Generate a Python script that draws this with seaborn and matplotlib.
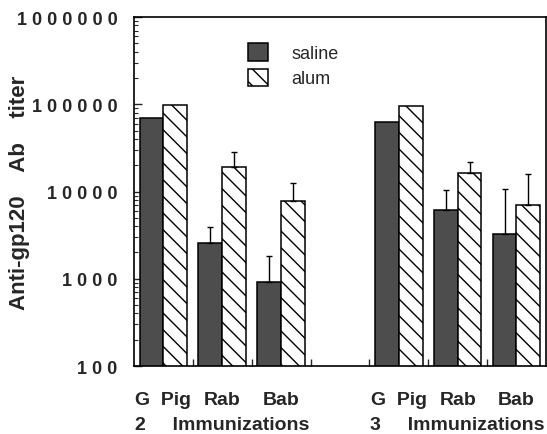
import matplotlib
matplotlib.use("Agg")
import matplotlib.pyplot as plt
import matplotlib.ticker as mticker
from matplotlib.patches import Patch
import numpy as np
import pandas as pd
import seaborn as sns

# Anti-gp120 antibody titers by species, adjuvant and number of immunizations
species = ["G  Pig", "Rab", "Bab"]
immunizations = ["2", "3"]
treatments = ["saline", "alum"]

saline_2 = [70000, 2600, 920]
alum_2 = [98000, 19000, 7700]
saline_3 = [62000, 6100, 3300]
alum_3 = [96000, 16500, 7000]

# upper error (SD) for each bar; 0 means no error bar shown
saline_2_err = [0, 1300, 880]
alum_2_err = [0, 9000, 4800]
saline_3_err = [0, 4400, 7300]
alum_3_err = [0, 5500, 9000]

ytick_values = [100, 1000, 10000, 100000, 1000000]

SALINE = "#4d4d4d"

# ---- build a long table; an empty slot separates the two immunization groups
rows = []
series = {
    ("2", "saline"): (saline_2, saline_2_err),
    ("2", "alum"): (alum_2, alum_2_err),
    ("3", "saline"): (saline_3, saline_3_err),
    ("3", "alum"): (alum_3, alum_3_err),
}
for (imm, trt), (vals, errs) in series.items():
    for sp, v, e in zip(species, vals, errs):
        rows.append({"slot": f"{imm}-{sp}", "treatment": trt, "titer": v, "err": e})
df = pd.DataFrame(rows)

slot_order = [f"2-{sp}" for sp in species] + [" "] + [f"3-{sp}" for sp in species]

sns.set_style("ticks")
plt.rcParams["font.family"] = ["Liberation Sans", "DejaVu Sans"]
plt.rcParams["hatch.linewidth"] = 1.0
plt.rcParams["hatch.color"] = "black"

fig = plt.figure(figsize=(5.47, 4.35), dpi=100)
ax = fig.add_axes([0.245, 0.1563, 0.753, 0.8023])
ax.set_yscale("log")

sns.barplot(
    data=df, x="slot", y="titer", hue="treatment",
    order=slot_order, hue_order=treatments,
    palette={"saline": SALINE, "alum": "white"},
    edgecolor="black", linewidth=1.1, errorbar=None, width=0.81,
    legend=False, ax=ax,
)

# hatch the alum bars and add one-sided error bars
err_lookup = {(r.slot, r.treatment): r.err for r in df.itertuples()}
for trt, container in zip(treatments, ax.containers):
    for bar in container:
        xc = bar.get_x() + bar.get_width() / 2
        slot = slot_order[int(round(xc))]
        if trt == "alum":
            bar.set_hatch("\\\\")
        err = err_lookup.get((slot, trt), 0)
        if err > 0:
            ax.errorbar(xc, bar.get_height(), yerr=[[0], [err]], fmt="none",
                        ecolor="black", elinewidth=1.0, capsize=2.5,
                        capthick=1.0, zorder=1)

ax.set_ylim(ytick_values[0], ytick_values[-1])
ax.set_xlim(-0.5, len(slot_order) - 0.5)

# y axis: decades with spaced-out bold labels
ax.yaxis.set_major_locator(mticker.FixedLocator(ytick_values))
ax.yaxis.set_major_formatter(
    mticker.FixedFormatter([" ".join(str(v)) for v in ytick_values]))
ax.yaxis.set_minor_locator(mticker.LogLocator(base=10, subs=np.arange(2, 10)))
ax.yaxis.set_minor_formatter(mticker.NullFormatter())
ax.tick_params(axis="y", which="major", direction="in", length=6, width=1,
               pad=12, labelsize=13)
ax.tick_params(axis="y", which="minor", direction="in", length=3, width=0.8)

# x axis: species under each pair, separators between pairs
pair_pos = [i for i, s in enumerate(slot_order) if s.strip()]
pair_labels = [s.split("-", 1)[1] for s in slot_order if s.strip()]
ax.set_xticks(pair_pos, labels=pair_labels, fontsize=14, fontweight="bold")
ax.xaxis.set_minor_locator(mticker.FixedLocator(np.arange(0.5, len(slot_order) - 1, 1.0)))
ax.tick_params(axis="x", which="major", length=0, pad=18)
ax.tick_params(axis="x", which="minor", direction="in", length=5, width=1)

for imm, center in zip(immunizations, [pair_pos[1], pair_pos[4]]):
    ax.annotate(f"{imm}     Immunizations", xy=(center, 0),
                xycoords=("data", "axes fraction"),
                xytext=(0, -42), textcoords="offset points",
                ha="center", va="center", fontsize=14, fontweight="bold")

ax.set_xlabel("")
ax.set_ylabel("Anti-gp120    Ab    titer", fontsize=16, fontweight="bold")
ax.yaxis.set_label_coords(-0.252, 0.499)

for sp in ax.spines.values():
    sp.set_linewidth(1.2)
    sp.set_color("black")

handles = [
    Patch(facecolor=SALINE, edgecolor="black", linewidth=1.1, label="saline"),
    Patch(facecolor="white", edgecolor="black", linewidth=1.1, hatch="\\\\", label="alum"),
]
ax.legend(handles=handles, loc="upper left", bbox_to_anchor=(0.26, 0.945),
          frameon=False, fontsize=13, handlelength=1.1, handleheight=1.1,
          handletextpad=1.3, labelspacing=0.35, borderaxespad=0)

# keep the decade labels bold once ticks are built
fig.canvas.draw()
for lbl in ax.yaxis.get_majorticklabels():
    lbl.set_fontsize(13)
    lbl.set_fontweight("bold")

fig.savefig("out.png", dpi=100)
